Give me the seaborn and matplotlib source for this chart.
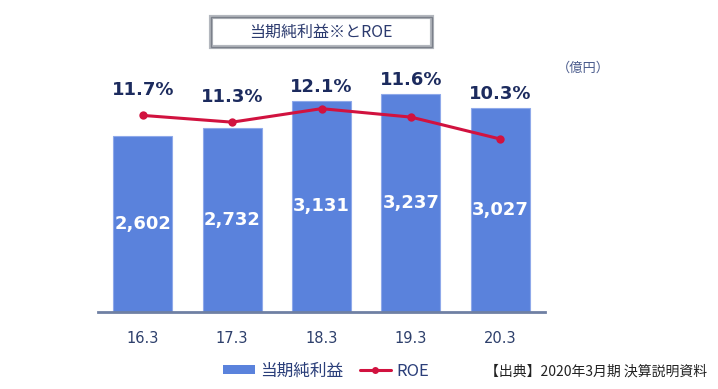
import matplotlib
matplotlib.use('Agg')
import matplotlib.pyplot as plt
from matplotlib.patches import Patch, Rectangle
from matplotlib.lines import Line2D
import seaborn as sns
import pandas as pd

# Data
periods = ['16.3', '17.3', '18.3', '19.3', '20.3']
net_income = [2602, 2732, 3131, 3237, 3027]   # 億円
roe = [11.7, 11.3, 12.1, 11.6, 10.3]          # %

df = pd.DataFrame({'period': periods, 'net_income': net_income, 'roe': roe})

sns.set_theme(style='white')
plt.rcParams['font.family'] = ['Noto Sans CJK JP', 'DejaVu Sans']

bar_color = '#5a82dc'
line_color = '#d1123f'
navy = '#1c2b5e'

fig = plt.figure(figsize=(7.18, 3.89), dpi=100)
ax = fig.add_axes([98 / 718, 1 - 312 / 389, 447 / 718, 270 / 389])

# Bars: net income
sns.barplot(data=df, x='period', y='net_income', color=bar_color, width=0.66,
            saturation=1, edgecolor='#8fa9ea', linewidth=0.8, ax=ax)
ax.set_ylim(0, 4000)
ax.bar_label(ax.containers[0], labels=[f'{v:,}' for v in net_income],
             label_type='center', color='white', fontsize=13, fontweight='bold',
             family='DejaVu Sans')

# Line: ROE on a second axis
ax2 = ax.twinx()
sns.lineplot(data=df, x='period', y='roe', sort=False, color=line_color,
             linewidth=2.2, marker='o', markersize=6, markeredgewidth=0, ax=ax2)
ax2.set_ylim(0.05, 16.05)

# ROE labels: above whichever is higher, dot or bar top
for i, (v, r) in enumerate(zip(net_income, roe)):
    dot_y = ax2.transData.transform((i, r))[1]
    bar_y = ax.transData.transform((i, v))[1]
    if bar_y > dot_y:
        ax.annotate(f'{r}%', (i, v), xytext=(0, 10), textcoords='offset points',
                    ha='center', va='center', fontsize=13, fontweight='bold',
                    color=navy, family='DejaVu Sans')
    else:
        ax2.annotate(f'{r}%', (i, r), xytext=(0, 18), textcoords='offset points',
                     ha='center', va='center', fontsize=13, fontweight='bold',
                     color=navy, family='DejaVu Sans')

for a in (ax, ax2):
    a.set_xlabel('')
    a.set_ylabel('')
    a.set_yticks([])
    for s in ['top', 'right', 'left']:
        a.spines[s].set_visible(False)
ax2.spines['bottom'].set_visible(False)
ax.spines['bottom'].set_color('#6f80a3')
ax.spines['bottom'].set_linewidth(2)
ax.set_xlim(-0.5, 4.5)
ax.tick_params(axis='x', length=0, pad=14, labelsize=10.5, labelcolor='#2d3f6b')
for t in ax.get_xticklabels():
    t.set_family('DejaVu Sans')

# Title box
fig.patches.append(Rectangle((211 / 718, 1 - 47 / 389), 221 / 718, 30 / 389,
                             transform=fig.transFigure, fill=False,
                             edgecolor='#b3b7be', linewidth=3))
fig.patches.append(Rectangle((211 / 718, 1 - 47 / 389), 221 / 718, 30 / 389,
                             transform=fig.transFigure, fill=False,
                             edgecolor='#7b808a', linewidth=1))
fig.text(321 / 718, 1 - 32 / 389, '当期純利益※とROE', ha='center', va='center',
         fontsize=11.5, color='#2b3a6e')

# Unit
fig.text(583 / 718, 1 - 68 / 389, '（億円）', ha='center', va='center',
         fontsize=9.5, color='#4a5b8c')

# Legend
handles = [Patch(facecolor=bar_color, edgecolor='none'),
           Line2D([0], [0], color=line_color, linewidth=2.2, marker='o',
                  markersize=5, markeredgewidth=0)]
leg = fig.legend(handles, ['当期純利益', 'ROE'], ncol=2, frameon=False,
                 loc='center', bbox_to_anchor=(326 / 718, 1 - 371 / 389),
                 fontsize=12, handlelength=1.9, handleheight=0.5,
                 columnspacing=1.0, handletextpad=0.3)
for t in leg.get_texts():
    t.set_color('#2b3f7a')

# Source
fig.text(485 / 718, 1 - 372 / 389, '【出典】2020年3月期 決算説明資料',
         ha='left', va='center', fontsize=10, color='#222222')

fig.savefig('out.png', dpi=100)
